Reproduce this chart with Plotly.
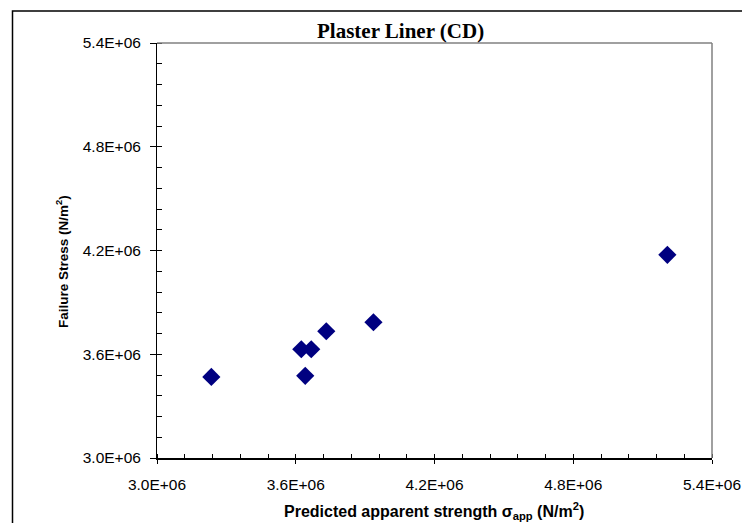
import plotly.graph_objects as go

# Data
predicted_strength = [3.235e6, 3.624e6, 3.667e6, 3.641e6, 3.732e6, 3.936e6, 5.207e6]
failure_stress = [3.469e6, 3.629e6, 3.629e6, 3.475e6, 3.733e6, 3.785e6, 4.175e6]
tick_vals = [3.0e6, 3.6e6, 4.2e6, 4.8e6, 5.4e6]
tick_text = ["3.0E+06", "3.6E+06", "4.2E+06", "4.8E+06", "5.4E+06"]

W, H = 742, 523
L, R, T, B = 157, 30, 43, 65
PW, PH = W - L - R, H - T - B


def px_x(x):
    return (x - L) / PW


def px_y(y):
    return (H - B - y) / PH


fig = go.Figure()
fig.add_trace(go.Scatter(
    x=predicted_strength, y=failure_stress, mode="markers",
    marker=dict(symbol="diamond", size=14, color="#000080",
                line=dict(width=0)),
    showlegend=False, cliponaxis=False,
))

fig.update_layout(
    template="none",
    width=W, height=H,
    margin=dict(l=L, r=R, t=T, b=B),
    paper_bgcolor="white", plot_bgcolor="white",
    xaxis=dict(range=[3.0e6, 5.4e6], tickvals=tick_vals, ticktext=tick_text,
               showgrid=False, zeroline=False, automargin=False,
               ticklabeloverflow="allow",
               tickcolor="black", tickwidth=1,
               tickfont=dict(family="Arial", size=15.5, color="black"),
               showline=True, linecolor="black", linewidth=2,
               ticks="outside", ticklen=4, ticklabelstandoff=7,
               minor=dict(dtick=1.2e5, tick0=3.0e6, ticks="inside", ticklen=4,
                          tickcolor="black", showgrid=False)),
    yaxis=dict(range=[3.0e6, 5.4e6], tickvals=tick_vals, ticktext=tick_text,
               showgrid=False, zeroline=False, automargin=False,
               ticklabeloverflow="allow",
               tickcolor="black", tickwidth=1,
               tickfont=dict(family="Arial", size=15.5, color="black"),
               showline=True, linecolor="black", linewidth=1,
               ticks="outside", ticklen=6, ticklabelstandoff=6,
               minor=dict(dtick=1.2e5, tick0=3.0e6, ticks="inside", ticklen=5,
                          tickcolor="black", showgrid=False)),
    # overlay axes giving the inside half of the crossing major ticks
    xaxis2=dict(range=[3.0e6, 5.4e6], tickvals=tick_vals, overlaying="x",
                anchor="y", side="bottom", ticks="inside", ticklen=4,
                tickcolor="black", showticklabels=False, showgrid=False,
                zeroline=False, showline=False, automargin=False),
    yaxis2=dict(range=[3.0e6, 5.4e6], tickvals=tick_vals, overlaying="y",
                anchor="x", side="left", ticks="inside", ticklen=3,
                tickcolor="black", showticklabels=False, showgrid=False,
                zeroline=False, showline=False, automargin=False),
    shapes=[
        # outer figure border (left and top visible)
        dict(type="rect", xref="paper", yref="paper",
             x0=px_x(12.5), x1=px_x(760), y0=px_y(540), y1=px_y(11),
             line=dict(color="black", width=1.5), layer="below"),
        # grey top and right frame of plot area
        dict(type="line", xref="paper", yref="paper", x0=0, x1=1, y0=1, y1=1,
             line=dict(color="#808080", width=1.5)),
        dict(type="line", xref="paper", yref="paper", x0=1, x1=1, y0=0, y1=1,
             line=dict(color="#808080", width=1.5)),
    ],
    annotations=[
        dict(text="<b>Plaster Liner (CD)</b>", xref="paper", yref="paper",
             x=px_x(400), y=px_y(31),
             xanchor="center", yanchor="middle", showarrow=False,
             font=dict(family="Liberation Serif", size=21, color="black")),
        dict(text="<b>Failure Stress (N/m<sup>2</sup>)</b>", xref="paper", yref="paper",
             x=px_x(62), y=px_y(262), textangle=-90,
             xanchor="center", yanchor="middle", showarrow=False,
             font=dict(family="Arial", size=13.5, color="black")),
        dict(text="<b>Predicted apparent strength σ<sub>app</sub> (N/m<sup>2</sup>)</b>",
             xref="paper", yref="paper",
             x=px_x(434), y=px_y(511),
             xanchor="center", yanchor="middle", showarrow=False,
             font=dict(family="Arial", size=16, color="black")),
    ],
)

# invisible traces to activate the overlay axes
fig.add_trace(go.Scatter(x=[None], y=[None], xaxis="x2", yaxis="y2",
                         showlegend=False, hoverinfo="skip"))

fig.write_html("out.html")
